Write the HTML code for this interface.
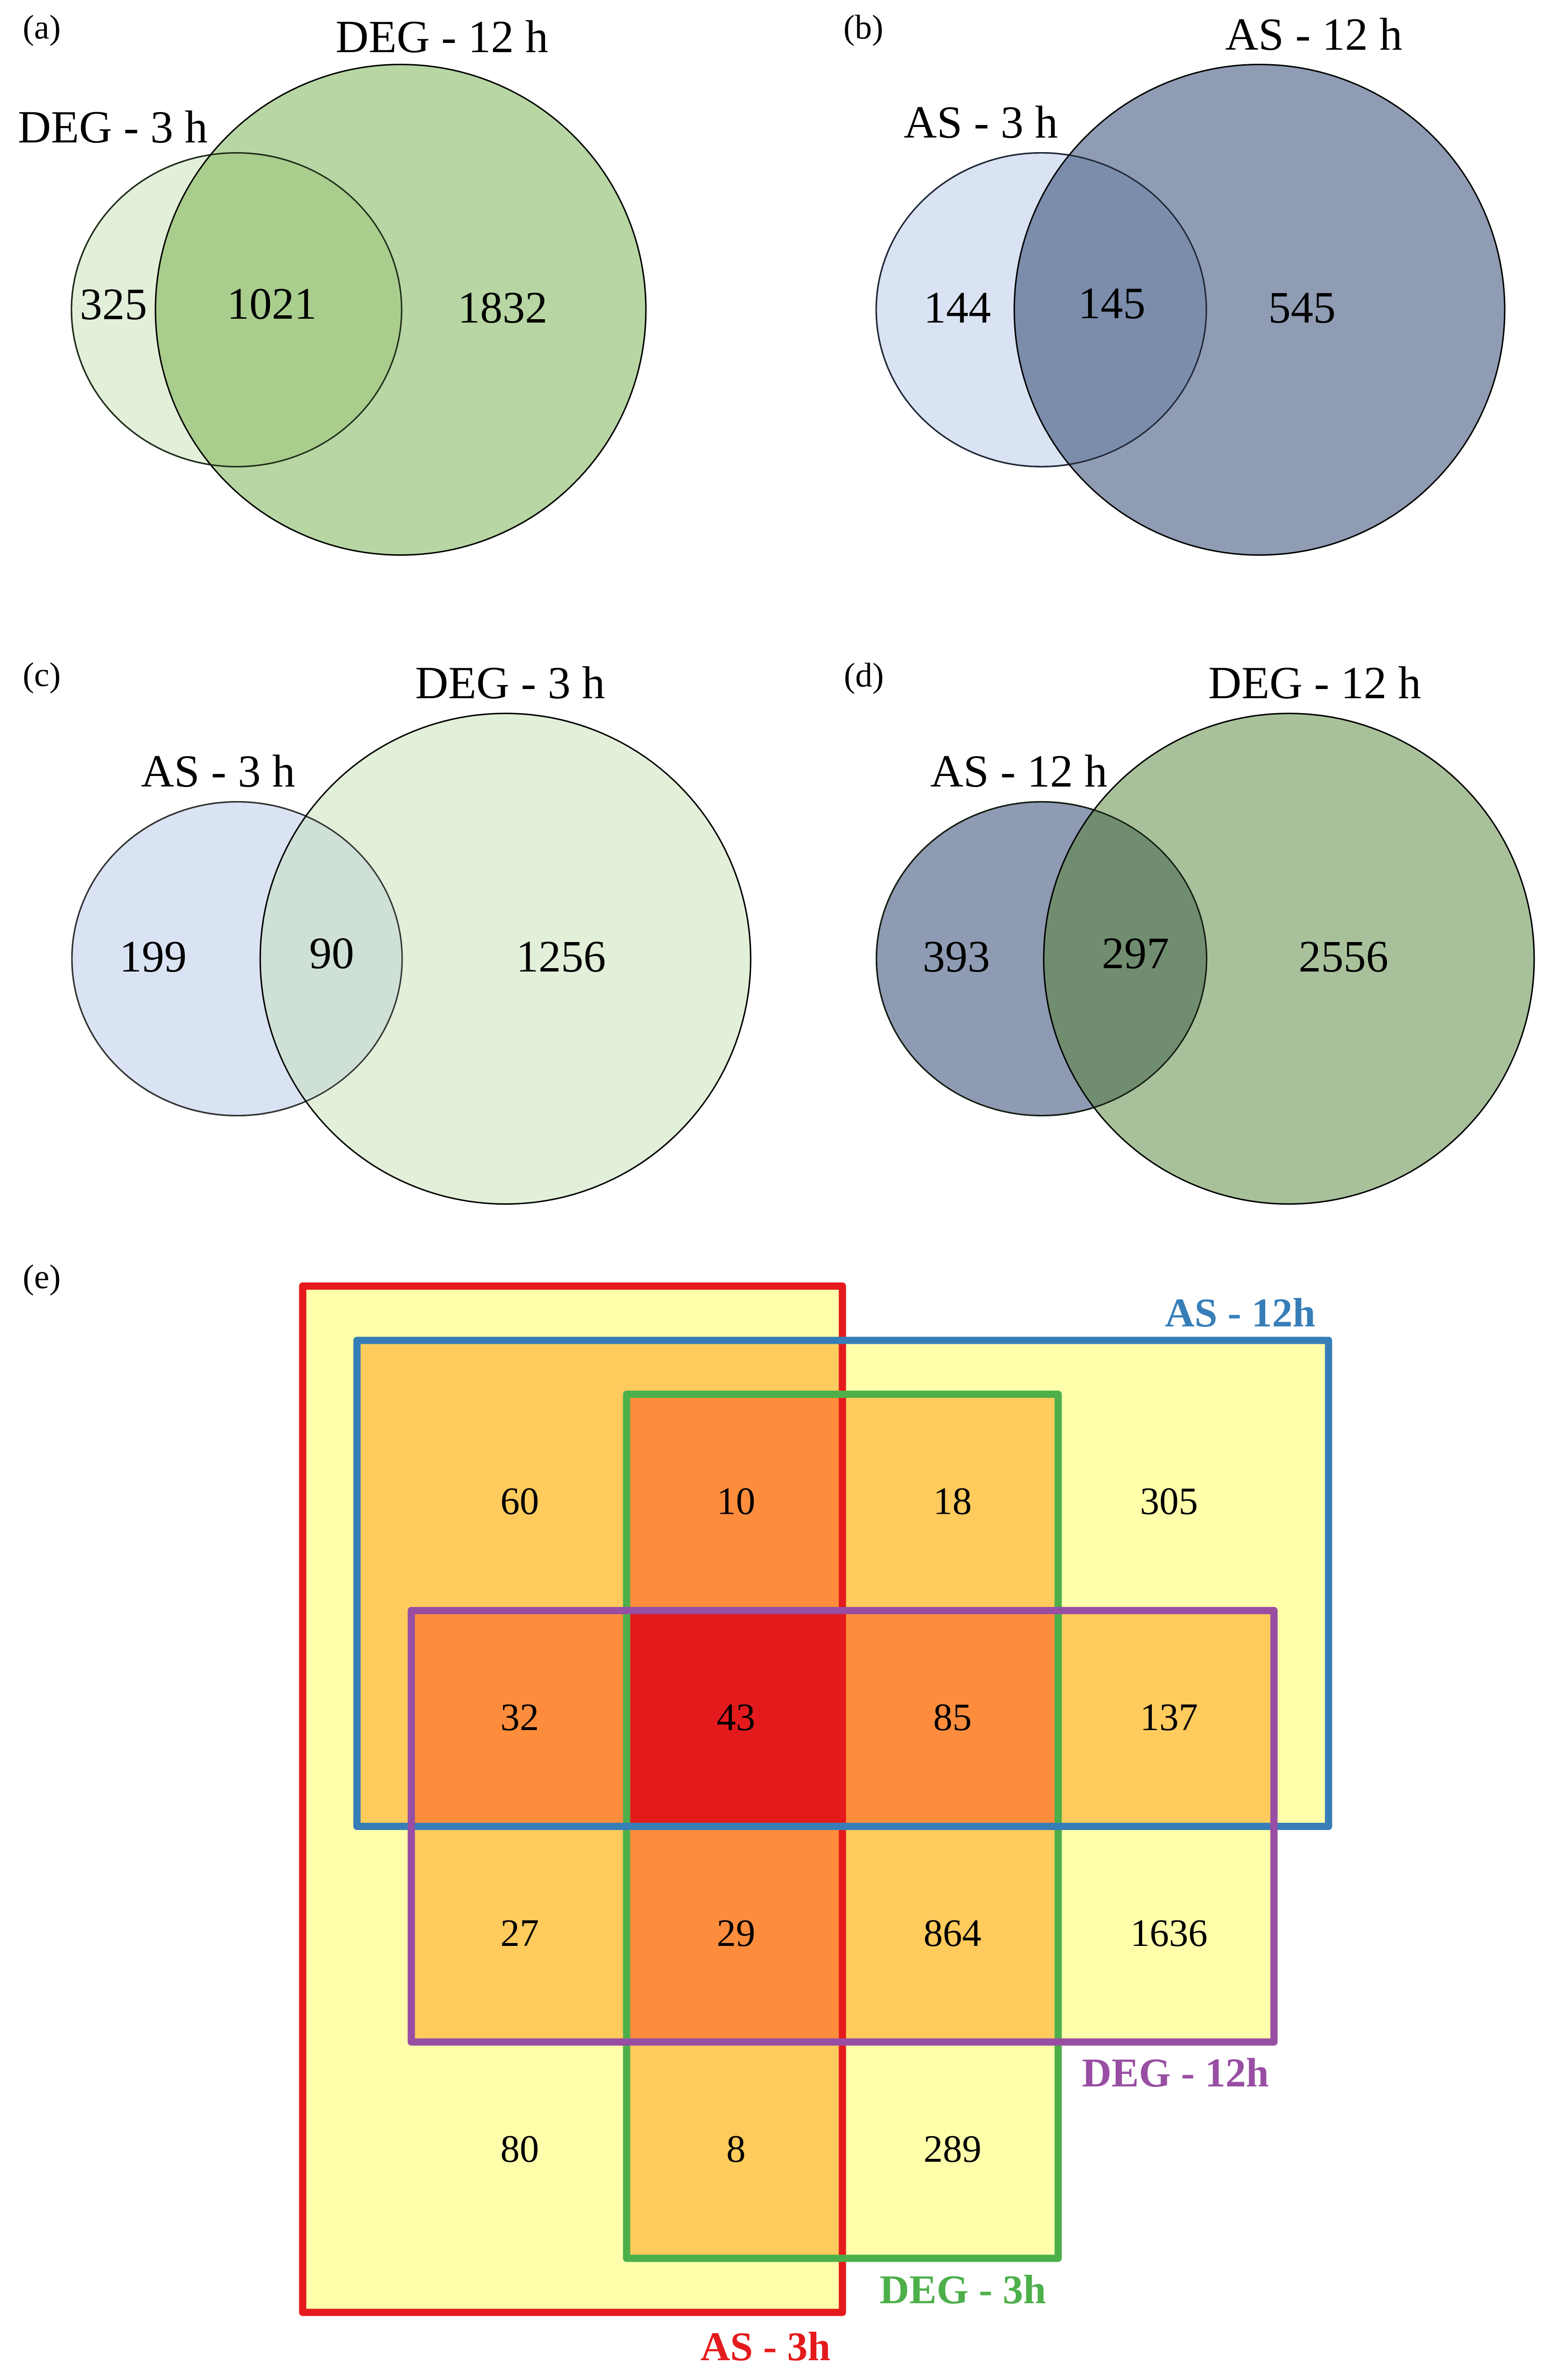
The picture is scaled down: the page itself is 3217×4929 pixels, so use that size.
<!DOCTYPE html>
<html lang="en">
<head>
<meta charset="utf-8">
<title>Venn diagrams of DEG and AS genes</title>
<style>
html,body{margin:0;padding:0;background:#fff;width:3217px;height:4929px;overflow:hidden}
svg{display:block}
text{font-family:"Liberation Serif",serif;fill:#000}
.lab{font-size:95px}
.num{font-size:93px;text-anchor:middle}
.pan{font-size:71px}
.cell{font-size:80px;text-anchor:middle}
.key{font-size:85px;font-weight:bold}
</style>
</head>
<body>
<svg id="figure" width="3217" height="4929" viewBox="0 0 3217 4929" xmlns="http://www.w3.org/2000/svg">
<defs>
<clipPath id="clip-a"><ellipse cx="490" cy="641.5" rx="342" ry="325"/></clipPath>
<clipPath id="clip-b"><ellipse cx="2157" cy="641.5" rx="342" ry="325"/></clipPath>
<clipPath id="clip-c"><ellipse cx="491" cy="1985.5" rx="342" ry="325"/></clipPath>
<clipPath id="clip-d"><ellipse cx="2157.5" cy="1985.5" rx="342" ry="325"/></clipPath>
</defs>

<g>
<ellipse cx="490" cy="641.5" rx="342" ry="325" fill="#e2efd9" stroke="#000" stroke-width="3"/>
<circle cx="830" cy="641.5" r="508" fill="#b7d6a3"/>
<circle cx="830" cy="641.5" r="508" fill="#a9cd8d" clip-path="url(#clip-a)"/>
<ellipse cx="490" cy="641.5" rx="342" ry="325" fill="none" stroke="#1e2b18" stroke-width="3"/>
<circle cx="830" cy="641.5" r="508" fill="none" stroke="#000" stroke-width="3"/>
<text class="pan" x="47" y="80">(a)</text>
<text class="lab" x="695" y="108">DEG - 12 h</text>
<text class="lab" x="37" y="295">DEG - 3 h</text>
</g>

<g>
<ellipse cx="2157" cy="641.5" rx="342" ry="325" fill="#dae3f3" stroke="#000" stroke-width="3"/>
<circle cx="2609" cy="641.5" r="508" fill="#8f9cb3"/>
<circle cx="2609" cy="641.5" r="508" fill="#7b8dab" clip-path="url(#clip-b)"/>
<ellipse cx="2157" cy="641.5" rx="342" ry="325" fill="none" stroke="#1f2736" stroke-width="3"/>
<circle cx="2609" cy="641.5" r="508" fill="none" stroke="#000" stroke-width="3"/>
<text class="pan" x="1747" y="80">(b)</text>
<text class="lab" x="2538" y="103">AS - 12 h</text>
<text class="lab" x="1872" y="285">AS - 3 h</text>
</g>

<g>
<ellipse cx="491" cy="1985.5" rx="342" ry="325" fill="#dae3f3" stroke="#000" stroke-width="3"/>
<circle cx="1047" cy="1985.5" r="508" fill="#e2efd9"/>
<circle cx="1047" cy="1985.5" r="508" fill="#cfe0d6" clip-path="url(#clip-c)"/>
<ellipse cx="491" cy="1985.5" rx="342" ry="325" fill="none" stroke="#333" stroke-width="3"/>
<circle cx="1047" cy="1985.5" r="508" fill="none" stroke="#000" stroke-width="3"/>
<text class="pan" x="47" y="1421">(c)</text>
<text class="lab" x="860" y="1446">DEG - 3 h</text>
<text class="lab" x="292" y="1629">AS - 3 h</text>
</g>

<g>
<ellipse cx="2157.5" cy="1985.5" rx="342" ry="325" fill="#8e9bb3" stroke="#000" stroke-width="3"/>
<circle cx="2670" cy="1985.5" r="508" fill="#a9c19b"/>
<circle cx="2670" cy="1985.5" r="508" fill="#718d70" clip-path="url(#clip-d)"/>
<ellipse cx="2157.5" cy="1985.5" rx="342" ry="325" fill="none" stroke="#141c10" stroke-width="3"/>
<circle cx="2670" cy="1985.5" r="508" fill="none" stroke="#000" stroke-width="3"/>
<text class="pan" x="1748" y="1422">(d)</text>
<text class="lab" x="2503" y="1446">DEG - 12 h</text>
<text class="lab" x="1927" y="1629">AS - 12 h</text>
</g>

<g id="panel-e">
<text class="pan" x="47" y="2668">(e)</text>
<g id="heat"></g>
<g id="frames"></g>
<g id="cells"></g>
<text class="key" x="2413" y="2747" style="fill:#377eb8">AS - 12h</text>
<text class="key" x="2241" y="4321" style="fill:#984ea3">DEG - 12h</text>
<text class="key" x="1822" y="4770" style="fill:#4daf4a">DEG - 3h</text>
<text class="key" x="1451" y="4888" style="fill:#e41a1c">AS - 3h</text>
</g>
<g id="venn-numbers"></g>
</svg>

<script>
// Venn counts, panels a, b, c, d
const firstOnlyCounts = [325, 144, 199, 393];
const sharedCounts = [1021, 145, 90, 297];
const secondOnlyCounts = [1832, 545, 1256, 2556];

// Four-set grid of panel e, read row by row (null = empty region)
const gridRow1 = [60, 10, 18, 305];
const gridRow2 = [32, 43, 85, 137];
const gridRow3 = [27, 29, 864, 1636];
const gridRow4 = [80, 8, 289, null];
const gridRows = [gridRow1, gridRow2, gridRow3, gridRow4];

const SVGNS = 'http://www.w3.org/2000/svg';

function make(tag, parent) {
  const el = document.createElementNS(SVGNS, tag);
  parent.appendChild(el);
  return el;
}

function drawVennNumbers() {
  const root = document.getElementById('venn-numbers');
  const layout = [
    { first: [235, 661], shared: [563, 660], second: [1041, 668] },
    { first: [1983, 668], shared: [2303, 659], second: [2697, 668] },
    { first: [317, 2012], shared: [687, 2005], second: [1162, 2012] },
    { first: [1981, 2012], shared: [2352, 2005], second: [2783, 2012] }
  ];
  layout.forEach(function (slot, i) {
    const a = make('text', root);
    
    
    a.setAttribute('class', 'num');
    a.setAttribute('x', slot.first[0]);
    a.setAttribute('y', slot.first[1]);
    a.textContent = firstOnlyCounts[i];

    const b = make('text', root);
    
    
    b.setAttribute('class', 'num');
    b.setAttribute('x', slot.shared[0]);
    b.setAttribute('y', slot.shared[1]);
    b.textContent = sharedCounts[i];

    const c = make('text', root);
    
    
    c.setAttribute('class', 'num');
    c.setAttribute('x', slot.second[0]);
    c.setAttribute('y', slot.second[1]);
    c.textContent = secondOnlyCounts[i];
  });
}

function drawGrid() {
  const xs = [627, 739.5, 852, 1298, 1745, 2192, 2639, 2752];
  const ys = [2663.5, 2776, 2887.5, 3335.5, 3782.5, 4229, 4677, 4789];
  const heatColors = ['#ffffff', '#ffffab', '#fecb5c', '#fd8d3c', '#e31a1c'];
  // Frames as index ranges into xs / ys, in painting order
  const frames = [
    { name: 'as-3h-frame', color: '#e41a1c', x0: 0, x1: 4, y0: 0, y1: 7 },
    { name: 'deg-3h-frame', color: '#4daf4a', x0: 3, x1: 5, y0: 2, y1: 6 },
    { name: 'as-12h-frame', color: '#377eb8', x0: 1, x1: 7, y0: 1, y1: 4 },
    { name: 'deg-12h-frame', color: '#984ea3', x0: 2, x1: 6, y0: 3, y1: 5 }
  ];
  const heat = document.getElementById('heat');
  for (let i = 0; i < xs.length - 1; i++) {
    for (let j = 0; j < ys.length - 1; j++) {
      let depth = 0;
      frames.forEach(function (f) {
        if (i >= f.x0 && i < f.x1 && j >= f.y0 && j < f.y1) depth++;
      });
      if (!depth) continue;
      const r = make('rect', heat);
      
      
      r.setAttribute('x', xs[i]);
      r.setAttribute('y', ys[j]);
      r.setAttribute('width', xs[i + 1] - xs[i] + 0.5);
      r.setAttribute('height', ys[j + 1] - ys[j] + 0.5);
      r.setAttribute('fill', heatColors[depth]);
    }
  }
  const frameRoot = document.getElementById('frames');
  frames.forEach(function (f) {
    const r = make('rect', frameRoot);
    
    
    r.setAttribute('x', xs[f.x0]);
    r.setAttribute('y', ys[f.y0]);
    r.setAttribute('width', xs[f.x1] - xs[f.x0]);
    r.setAttribute('height', ys[f.y1] - ys[f.y0]);
    r.setAttribute('fill', 'none');
    r.setAttribute('stroke', f.color);
    r.setAttribute('stroke-width', '15');
    r.setAttribute('stroke-linejoin', 'round');
  });
  const cellRoot = document.getElementById('cells');
  const textNudge = [1.5, 3, 4.5, 6];
  gridRows.forEach(function (row, j) {
    row.forEach(function (value, i) {
      if (value === null) return;
      const t = make('text', cellRoot);
      
      
      t.setAttribute('class', 'cell');
      t.setAttribute('x', (xs[i + 2] + xs[i + 3]) / 2 + textNudge[i]);
      t.setAttribute('y', (ys[j + 2] + ys[j + 3]) / 2 + 24);
      t.textContent = value;
    });
  });
}

drawGrid();
drawVennNumbers();
</script>
</body>
</html>
